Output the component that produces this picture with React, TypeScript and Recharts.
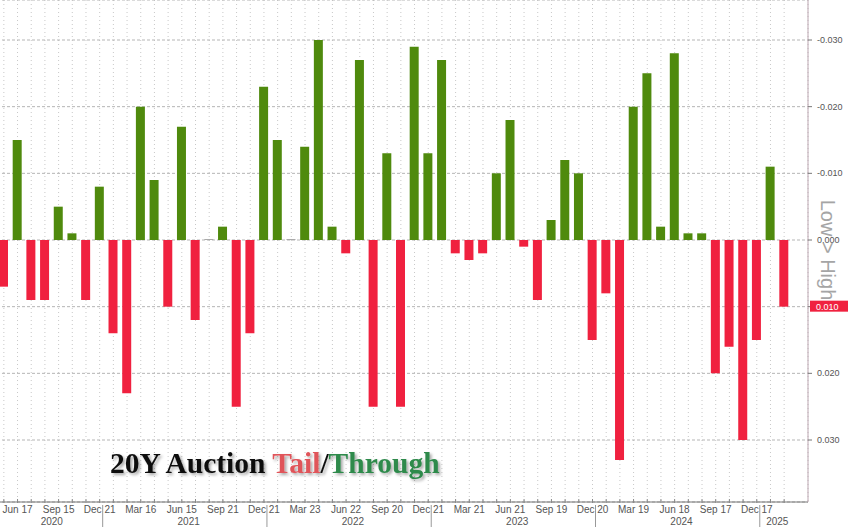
import { BarChart, Bar, Cell, XAxis, YAxis, CartesianGrid } from "recharts";

// one 20Y auction per month, May 2020 - Feb 2025
const months = [
  "2020-05", "2020-06", "2020-07", "2020-08", "2020-09", "2020-10", "2020-11", "2020-12",
  "2021-01", "2021-02", "2021-03", "2021-04", "2021-05", "2021-06", "2021-07", "2021-08",
  "2021-09", "2021-10", "2021-11", "2021-12",
  "2022-01", "2022-02", "2022-03", "2022-04", "2022-05", "2022-06", "2022-07", "2022-08",
  "2022-09", "2022-10", "2022-11", "2022-12",
  "2023-01", "2023-02", "2023-03", "2023-04", "2023-05", "2023-06", "2023-07", "2023-08",
  "2023-09", "2023-10", "2023-11", "2023-12",
  "2024-01", "2024-02", "2024-03", "2024-04", "2024-05", "2024-06", "2024-07", "2024-08",
  "2024-09", "2024-10", "2024-11", "2024-12",
  "2025-01", "2025-02",
];

// positive = tail (red), negative = stop-through (green); axis is flipped (Low > High)
const tailThrough = [
  0.007, -0.015, 0.009, 0.009, -0.005, -0.001, 0.009, -0.008,
  0.014, 0.023, -0.02, -0.009, 0.01, -0.017, 0.012, 0.0,
  -0.002, 0.025, 0.014, -0.023,
  -0.015, 0.0, -0.014, -0.03, -0.002, 0.002, -0.027, 0.025,
  -0.013, 0.025, -0.029, -0.013,
  -0.027, 0.002, 0.003, 0.002, -0.01, -0.018, 0.001, 0.009,
  -0.003, -0.012, -0.01, 0.015,
  0.008, 0.033, -0.02, -0.025, -0.002, -0.028, -0.001, -0.001,
  0.02, 0.016, 0.03, 0.015,
  -0.011, 0.01,
];

const dateLabels: Record<string, string> = {
  "2020-06": "Jun 17", "2020-09": "Sep 15", "2020-12": "Dec 21",
  "2021-03": "Mar 16", "2021-06": "Jun 15", "2021-09": "Sep 21", "2021-12": "Dec 21",
  "2022-03": "Mar 23", "2022-06": "Jun 22", "2022-09": "Sep 20", "2022-12": "Dec 21",
  "2023-03": "Mar 21", "2023-06": "Jun 21", "2023-09": "Sep 19", "2023-12": "Dec 20",
  "2024-03": "Mar 19", "2024-06": "Jun 18", "2024-09": "Sep 17", "2024-12": "Dec 17",
};

const yTicks = [-0.03, -0.02, -0.01, 0, 0.01, 0.02, 0.03];

const data = months.map((m, i) => ({ month: m, value: tailThrough[i] }));
const lastValue = tailThrough[tailThrough.length - 1];

const RED = "#f0213f";
const GREEN = "#4f8a0d";
const AXIS_FONT = "'Liberation Sans', Arial, sans-serif";

const MonthTick = (props: any) => {
  const { x, y, payload } = props;
  const i = payload?.index ?? props.index;
  const step = payload?.offset ? payload.offset * 2 : 13.7;
  const m = months[i];
  const yr = m.slice(0, 4);
  const inYear = months.map((mm, j) => (mm.startsWith(yr) ? j : -1)).filter((j) => j >= 0);
  const center = (inYear[0] + inYear[inYear.length - 1]) / 2;
  const showYear = Math.floor(center) === i;
  const label = dateLabels[m];
  return (
    <g>
      <line x1={x} x2={x} y1={y - 3} y2={y + 1} stroke="#888" />
      {label && (
        <text x={x} y={y + 11} textAnchor="middle" fontSize={10} fill="#555" fontFamily={AXIS_FONT}>
          {label}
        </text>
      )}
      {showYear && (
        <text x={x + (center - i) * step} y={y + 23} textAnchor="middle" fontSize={10} fill="#555" fontFamily={AXIS_FONT}>
          {yr}
        </text>
      )}
      {m.endsWith("-12") && <line x1={x + 3} x2={x + 3} y1={y + 3} y2={y + 25} stroke="#999" />}
    </g>
  );
};

const ValueTick = (props: any) => {
  const { x, y, payload } = props;
  const v = payload.value;
  const txt = v.toFixed(3);
  const isLast = Math.abs(v - lastValue) < 1e-9;
  return (
    <g>
      {v === 0 && (
        <text
          transform={`translate(${x + 6},${y + 10}) rotate(90)`}
          textAnchor="middle"
          fontSize={20}
          fill="#a5a5a5"
          fontFamily={AXIS_FONT}
        >
          Low &gt; High
        </text>
      )}
      {isLast ? (
        <>
          <rect x={x - 5} y={y - 6} width={40} height={11} fill={RED} />
          <text x={x + 1} y={y + 3} fontSize={9} fill="#fff" fontFamily={AXIS_FONT}>
            {txt}
          </text>
        </>
      ) : (
        <text x={x + 2} y={y + 3} fontSize={9} fill="#555" fontFamily={AXIS_FONT}>
          {txt}
        </text>
      )}
    </g>
  );
};

export default function App() {
  return (
    <div style={{ position: "absolute", left: 0, top: 0, width: 848, height: 527, background: "#fff", overflow: "hidden" }}>
      <div style={{ position: "absolute", left: -3, top: 0 }}>
        <BarChart width={851} height={527} data={data} margin={{ top: 0, right: 0, left: 0, bottom: 0 }}>
          <CartesianGrid horizontal={false} stroke="#c8c8c8" strokeDasharray="1 3" />
          <CartesianGrid vertical={false} stroke="#b5b5b5" strokeDasharray="3 2" />
          <XAxis
            dataKey="month"
            interval={0}
            height={25}
            tickSize={0}
            tickMargin={0}
            tickLine={false}
            axisLine={{ stroke: "#777" }}
            padding={{ left: 0, right: 17 }}
            tick={(p: any) => <MonthTick {...p} />}
          />
          <YAxis
            orientation="right"
            reversed
            width={40}
            domain={[-0.036, 0.0393]}
            ticks={yTicks}
            allowDataOverflow
            tickSize={4}
            tickMargin={3}
            axisLine={{ stroke: "#bca6b1" }}
            tickLine={{ stroke: "#777" }}
            tick={(p: any) => <ValueTick {...p} />}
          />
          <Bar dataKey="value" barSize={9} minPointSize={1} isAnimationActive={false}>
            {data.map((d) => (
              <Cell key={d.month} fill={d.value > 0 ? RED : d.value < 0 ? GREEN : "#aaa"} />
            ))}
          </Bar>
        </BarChart>
      </div>
      <svg width={848} height={527} style={{ position: "absolute", left: 0, top: 0, pointerEvents: "none" }}>
        <defs>
          <filter id="titleShadow" x="-5%" y="-30%" width="110%" height="160%">
            <feDropShadow dx="2" dy="2" stdDeviation="1.5" floodColor="#000" floodOpacity="0.35" />
          </filter>
        </defs>
        <text
          x={110}
          y={473}
          fontFamily="'Liberation Serif', 'Times New Roman', serif"
          fontWeight="bold"
          fontSize={29.5}
          filter="url(#titleShadow)"
        >
          <tspan fill="#111">20Y Auction </tspan>
          <tspan fill="#e0545a">Tail</tspan>
          <tspan fill="#111">/</tspan>
          <tspan fill="#2f8a4c">Through</tspan>
        </text>
      </svg>
    </div>
  );
}
